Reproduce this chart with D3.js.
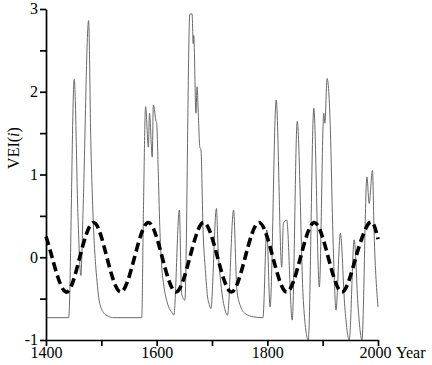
<!DOCTYPE html>
<html>
<head>
<meta charset="utf-8">
<script src="https://cdn.jsdelivr.net/npm/d3@7"></script>
<style>
body { margin: 0; background: #fff; }
svg text { font-family: "Liberation Serif", "DejaVu Serif", serif; }
</style>
</head>
<body>
<div id="chart"></div>
<script>
// VEI index
const vei_years = [1400, 1441, 1451, 1458, 1463, 1467, 1477, 1481, 1484, 1487, 1490, 1493, 1496, 1500, 1505, 1512, 1520,
	1573, 1576, 1580, 1585, 1587, 1592, 1594, 1599, 1600, 1603, 1606, 1609, 1613, 1618, 1623, 1629, 1631,
	1641, 1645, 1651, 1660, 1664, 1666, 1667, 1671, 1673, 1675, 1678, 1680, 1684, 1688, 1692, 1695, 1698,
	1708, 1711, 1715, 1719, 1723, 1728, 1739, 1745, 1752, 1760, 1775, 1792, 1799, 1805, 1816, 1826,
	1829, 1835, 1845, 1854, 1865, 1874, 1884, 1894, 1902, 1904, 1908, 1914, 1918, 1921, 1924, 1932,
	1940, 1948, 1957, 1964, 1971, 1980, 1984, 1990, 1993, 2000]
const vei_values = [-0.73, -0.73, 2.15, 0.45, -0.22, 0.57, 2.86, 1.40, 0.69, 0.20, -0.12, -0.35, -0.52, -0.62, -0.68, -0.71, -0.73,
	-0.73, 0.53, 1.82, 1.33, 1.74, 1.21, 1.84, 1.64, 1.62, 1.00, 0.30, -0.10, -0.35, -0.52, -0.62, -0.68, -0.70,
	0.57, -0.44, -0.52, 2.94, 2.94, 2.58, 2.68, 1.74, 2.06, 1.78, 1.33, 1.30, 0.29, -0.15, -0.48, -0.57, -0.62,
	0.59, 0.10, -0.25, -0.48, -0.62, -0.70, 0.57, -0.40, -0.60, -0.68, -0.72, -0.73, 0.33, -0.60, 1.90, -0.12,
	0.41, 0.45, -0.76, 1.64, -0.52, -1.0, 1.80, -0.36, 1.74, 1.62, 2.16, 1.53, 0.40, -0.25, -0.64, 0.29,
	-0.60, -1.0, 0.21, -0.60, -1.0, 0.97, 0.65, 1.05, 0.29, -0.60]

// dashed cycle, extremes and zero crossings
const cycle_years = [1400, 1411, 1436, 1461, 1486, 1510, 1535, 1560, 1585, 1610, 1635, 1660,
	1685, 1710, 1735, 1760, 1785, 1810, 1835, 1860, 1885, 1910, 1935, 1960, 1985, 2000]
const cycle_values = [0.25, 0, -0.42, 0, 0.42, 0, -0.42, 0, 0.42, 0, -0.42, 0,
	0.42, 0, -0.42, 0, 0.42, 0, -0.42, 0, 0.42, 0, -0.42, 0, 0.42, 0.22]

const x_ticks = [1400, 1500, 1600, 1700, 1800, 1900, 2000]
const x_tick_labels = ["1400", "", "1600", "", "1800", "", "2000"]
const y_ticks = [-1, -0.5, 0, 0.5, 1, 1.5, 2, 2.5, 3]
const y_tick_labels = ["-1", "", "0", "", "1", "", "2", "", "3"]

class VeiChart {
	constructor(id) {
		this.width = 432
		this.height = 365
		this.left = 46
		this.right = 378
		this.top = 9
		this.bottom = 340
		this.container = document.getElementById(id)
	}

	render() {
		const svg = d3.select(this.container)
			.append("svg")
			.attr("width", this.width)
			.attr("height", this.height)

		const x_scale = d3.scaleLinear()
			.domain([1400, 2000])
			.range([this.left, this.right])

		const y_scale = d3.scaleLinear()
			.domain([-1, 3])
			.range([this.bottom, this.top])

		// gray VEI line
		const vei = vei_years.map((y, i) => [y, vei_values[i]])
		svg.append("path")
			.datum(vei)
			.attr("fill", "none")
			.attr("stroke", "#6a6a6a")
			.attr("stroke-width", 1)
			.attr("stroke-linejoin", "round")
			.attr("d", d3.line()
				.curve(d3.curveMonotoneX)
				.x(d => x_scale(d[0]))
				.y(d => y_scale(d[1])))

		// dashed cycle
		const cycle = cycle_years.map((y, i) => [y, cycle_values[i]])
		svg.append("path")
			.datum(cycle)
			.attr("fill", "none")
			.attr("stroke", "#000")
			.attr("stroke-width", 3.6)
			.attr("stroke-dasharray", "9,4.5")
			.attr("d", d3.line()
				.curve(d3.curveNatural)
				.x(d => x_scale(d[0]))
				.y(d => y_scale(d[1])))

		const x_axis = d3.axisBottom(x_scale)
			.tickValues(x_ticks)
			.tickFormat((d, i) => x_tick_labels[i])
			.tickSizeInner(6)
			.tickSizeOuter(0)
			.tickPadding(1)

		const y_axis = d3.axisLeft(y_scale)
			.tickValues(y_ticks)
			.tickFormat((d, i) => y_tick_labels[i])
			.tickSizeInner(6)
			.tickSizeOuter(0)
			.tickPadding(2)

		const gx = svg.append("g")
			.attr("transform", `translate(0,${this.bottom})`)
			.call(x_axis)
		const gy = svg.append("g")
			.attr("transform", `translate(${this.left},0)`)
			.call(y_axis)

		for (const g of [gx, gy]) {
			g.attr("font-family", null)
			g.selectAll("path, line")
				.style("stroke", "#000")
				.style("stroke-width", "1.7px")
			g.selectAll("text")
				.style("fill", "#000")
				.style("font-size", "16px")
		}
		gy.selectAll("text").attr("dy", "0.3em")
		// last label sits a little left of its tick, next to "Year"
		gx.selectAll(".tick text").filter(d => d === 2000).attr("dx", -3)

		svg.append("text")
			.attr("x", 396)
			.attr("y", 358)
			.style("font-size", "16px")
			.text("Year")

		const ylab = svg.append("text")
			.attr("transform", "translate(19,148) rotate(-90)")
			.attr("text-anchor", "middle")
			.style("font-size", "16px")
		ylab.append("tspan").text("VEI(")
		ylab.append("tspan").style("font-style", "italic").text("i")
		ylab.append("tspan").text(")")
	}
}

new VeiChart("chart").render()
</script>
</body>
</html>
